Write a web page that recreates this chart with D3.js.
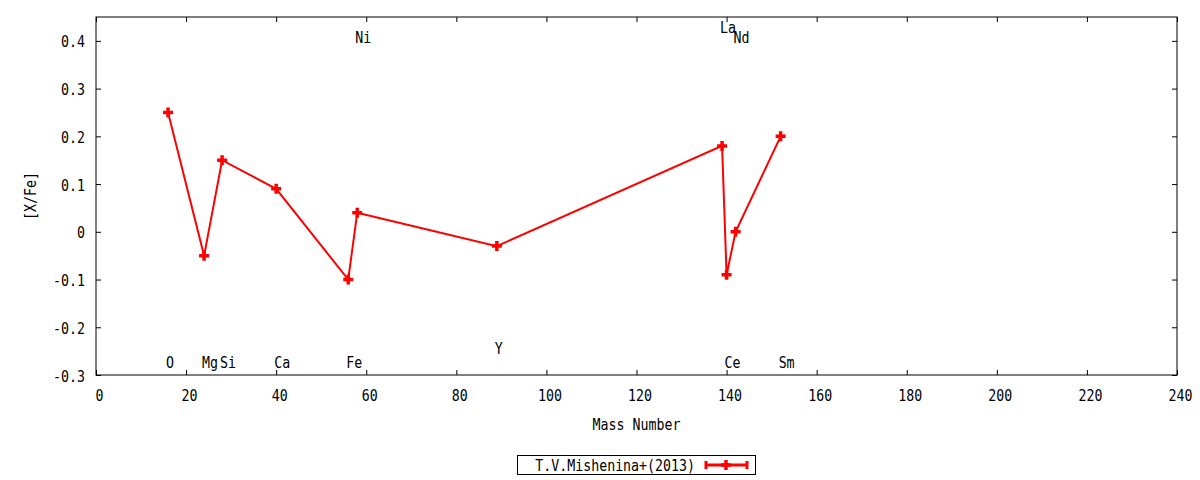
<!DOCTYPE html>
<html>
<head>
<meta charset="utf-8">
<script src="https://cdn.jsdelivr.net/npm/d3@7"></script>
<style>
  body { margin: 0; background: #fff; }
  text { font-family: "DejaVu Sans Mono", monospace; font-size: 16px; fill: #000; }
</style>
</head>
<body>
<div id="plot"></div>
<script>
// values
const elements = ["O", "Mg", "Si", "Ca", "Fe", "Ni", "Y", "La", "Ce", "Nd", "Sm"];
const massNumbers = [16, 24, 28, 40, 56, 58, 89, 139, 140, 142, 152];
const xFe = [0.25, -0.05, 0.15, 0.09, -0.1, 0.04, -0.03, 0.18, -0.09, 0.0, 0.2];
const labelY = [-0.275, -0.275, -0.275, -0.275, -0.275, 0.407, -0.245, 0.428, -0.275, 0.407, -0.275];
const xTicks = [0, 20, 40, 60, 80, 100, 120, 140, 160, 180, 200, 220, 240];
const yTicks = [-0.3, -0.2, -0.1, 0, 0.1, 0.2, 0.3, 0.4];
const seriesName = "T.V.Mishenina+(2013)";

const width = 1200, height = 480;
const margin = {top: 17, right: 23, bottom: 105, left: 96};
const squeeze = 0.83; // narrow glyphs like the gnuplot font
const red = "#ff0000";

const svg = d3.select("#plot")
  .append("svg")
  .attr("width", width)
  .attr("height", height);

const x = d3.scaleLinear()
  .domain([0, 240])
  .range([margin.left, width - margin.right]);

const y = d3.scaleLinear()
  .domain([-0.3, 0.45])
  .range([height - margin.bottom, margin.top]);

const fmtY = d => d === 0 ? "0" : d.toFixed(1);

function fixText(sel, tx, ty, anchor) {
  sel.selectAll("text")
    .attr("x", null).attr("y", null).attr("dy", null)
    .attr("fill", "#000")
    .attr("text-anchor", anchor)
    .attr("transform", `translate(${tx},${ty}) scale(${squeeze},1)`);
}

function cleanAxis(g) {
  g.select(".domain").remove();
  g.selectAll("line").attr("stroke", "#000");
}

// axes, ticks pointing inward
const xAxisBottom = svg.append("g")
  .attr("transform", `translate(0,${height - margin.bottom})`)
  .call(d3.axisBottom(x).tickValues(xTicks).tickSize(-5).tickFormat(d3.format("d")));
cleanAxis(xAxisBottom);
fixText(xAxisBottom, 3, 26, "middle");

const xAxisTop = svg.append("g")
  .attr("transform", `translate(0,${margin.top})`)
  .call(d3.axisTop(x).tickValues(xTicks).tickSize(-5).tickFormat(""));
cleanAxis(xAxisTop);

const yAxisLeft = svg.append("g")
  .attr("transform", `translate(${margin.left},0)`)
  .call(d3.axisLeft(y).tickValues(yTicks).tickSize(-5).tickFormat(fmtY));
cleanAxis(yAxisLeft);
fixText(yAxisLeft, -11, 6, "end");

const yAxisRight = svg.append("g")
  .attr("transform", `translate(${width - margin.right},0)`)
  .call(d3.axisRight(y).tickValues(yTicks).tickSize(-5).tickFormat(""));
cleanAxis(yAxisRight);

svg.append("rect")
  .attr("x", x(0))
  .attr("y", y(0.45))
  .attr("width", x(240) - x(0))
  .attr("height", y(-0.3) - y(0.45))
  .attr("fill", "none")
  .attr("stroke", "#000")
  .attr("stroke-width", 1);

// axis titles
svg.append("text")
  .attr("text-anchor", "middle")
  .attr("transform", `translate(${(x(0) + x(240)) / 2},430) scale(${squeeze},1)`)
  .text("Mass Number");

svg.append("text")
  .attr("text-anchor", "middle")
  .attr("transform", `translate(36,${(y(-0.3) + y(0.45)) / 2}) rotate(-90) scale(${squeeze},1)`)
  .text("[X/Fe]");

// element labels
elements.forEach((el, i) => {
  svg.append("text")
    .attr("text-anchor", "start")
    .attr("transform", `translate(${x(massNumbers[i]) - 2},${y(labelY[i]) + 5}) scale(${squeeze},1)`)
    .text(el);
});

// series line and markers
const points = massNumbers.map((m, i) => [m, xFe[i]]);

svg.append("path")
  .datum(points)
  .attr("fill", "none")
  .attr("stroke", red)
  .attr("stroke-width", 2)
  .attr("d", d3.line().x(d => x(d[0])).y(d => y(d[1])));

const plus = "M-5,0H5M0,-5V5";
svg.selectAll(".pt")
  .data(points)
  .join("path")
  .attr("class", "pt")
  .attr("transform", d => `translate(${x(d[0])},${y(d[1])})`)
  .attr("d", plus)
  .attr("stroke", red)
  .attr("stroke-width", 3.5)
  .attr("fill", "none");

// legend
const legend = svg.append("g");
legend.append("rect")
  .attr("x", 517.5).attr("y", 455.5)
  .attr("width", 238).attr("height", 19)
  .attr("fill", "none")
  .attr("stroke", "#000");

legend.append("text")
  .attr("text-anchor", "end")
  .attr("transform", `translate(695,471) scale(${squeeze},1)`)
  .text(seriesName);

legend.append("line")
  .attr("x1", 705).attr("x2", 747)
  .attr("y1", 465).attr("y2", 465)
  .attr("stroke", red).attr("stroke-width", 3);
[706, 747].forEach(cx => {
  legend.append("line")
    .attr("x1", cx).attr("x2", cx)
    .attr("y1", 461).attr("y2", 469)
    .attr("stroke", red).attr("stroke-width", 3);
});
legend.append("path")
  .attr("transform", "translate(726,465)")
  .attr("d", plus)
  .attr("stroke", red)
  .attr("stroke-width", 3.5);
</script>
</body>
</html>
